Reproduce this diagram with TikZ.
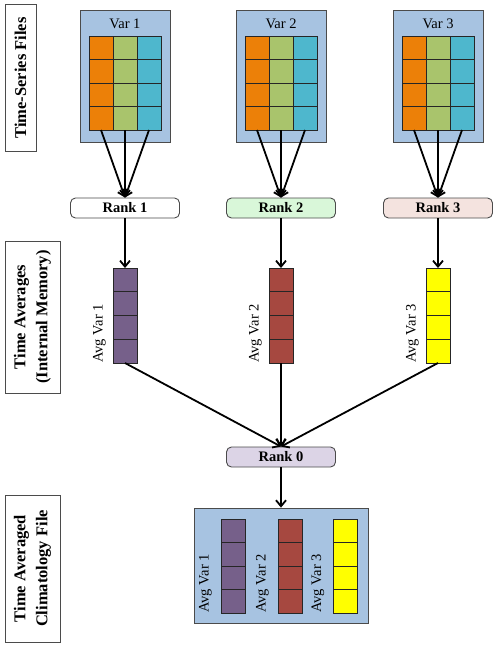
\documentclass[tikz,border=0pt]{standalone}
\usepackage{fontspec}
\setmainfont{Liberation Serif}
\usetikzlibrary{arrows.meta,positioning}
\definecolor{clfile}{RGB}{167,195,225}
\definecolor{cledge}{RGB}{75,75,75}
\definecolor{clorange}{RGB}{236,128,8}
\definecolor{clgreen}{RGB}{169,196,108}
\definecolor{clcyan}{RGB}{78,183,205}
\definecolor{clpurple}{RGB}{118,96,138}
\definecolor{clbrick}{RGB}{166,72,64}
\definecolor{clyellow}{RGB}{255,255,0}
\definecolor{clrankgreen}{RGB}{217,247,217}
\definecolor{clrankpink}{RGB}{244,227,223}
\definecolor{clranklav}{RGB}{220,212,230}
\tikzset{
  clfilebox/.style={draw=cledge, line width=0.8pt, fill=clfile, inner sep=0pt},
  clcell/.style={draw=black!85, line width=0.7pt, minimum width=24pt, minimum height=23.5pt, inner sep=0pt, outer sep=0pt},
  clrank/.style={draw=cledge, line width=0.9pt, rounded corners=5pt, minimum width=109pt, minimum height=20pt, inner sep=0pt, font=\bfseries\fontsize{14.5}{17}\selectfont},
  clside/.style={draw=cledge, line width=0.9pt, fill=white, rotate=90, align=center, inner sep=0pt, font=\bfseries\fontsize{16.5}{22}\selectfont},
  clvartext/.style={font=\fontsize{14.5}{17}\selectfont},
  clavgtext/.style={rotate=90, anchor=south west, inner sep=0pt, font=\fontsize{14.5}{17}\selectfont},
  clarr/.style={-{Straight Barb[length=6pt,width=10pt]}, line width=1.8pt}
}

\begin{document}
\begin{tikzpicture}[x=1pt, y=-1pt]
  \useasboundingbox (0,0) rectangle (500,646);

  \node[clside, minimum width=147pt, minimum height=31pt] (sidets) at (20.5,78) {Time-Series Files};
  \node[clside, minimum width=152pt, minimum height=55pt] (sideavg) at (32.5,317) {Time Averages\\(Internal Memory)};
  \node[clside, minimum width=147pt, minimum height=55pt] (sideclim) at (32.5,568.5) {Time Averaged\\Climatology File};

  \foreach \v/\x/\rk in {1/125/white,2/281/clrankgreen,3/438/clrankpink} {
    \node[clfilebox, minimum width=90pt, minimum height=132pt] (var\v) at (\x,76) {};
    \node[clvartext, anchor=base] (var\v lbl) at (\x,28) {Var \v};
    \foreach \c/\col in {1/clorange,2/clgreen,3/clcyan}
      \foreach \r in {1,...,4}
        \node[clcell, fill=\col] (v\v-\c-\r) at ({\x+(\c-2)*24},{36+(\r-0.5)*23.5}) {};
    \node[clrank, fill=\rk] (rank\v) at (\x,208) {Rank \v};
    \foreach \c in {1,2,3}
      \draw[clarr] (v\v-\c-4.south) -- (rank\v.north);
  }

  \node[clrank, fill=clranklav] (rank0) at (281,457) {Rank 0};
  \foreach \v/\x/\col in {1/125/clpurple,2/281/clbrick,3/438/clyellow} {
    \foreach \r in {1,...,4}
      \node[clcell, fill=\col, minimum height=23.75pt] (avg\v-\r) at (\x,{268+(\r-0.5)*23.75}) {};
    \node[clavgtext] (avg\v lbl) at ([xshift=-7pt]avg\v-4.south west) {Avg Var \v};
    \draw[clarr] (rank\v.south) -- (avg\v-1.north);
    \draw[clarr] (avg\v-4.south) -- (rank0.north);
  }

  \node[clfilebox, minimum width=174pt, minimum height=115pt] (clim) at (281,565.5) {};
  \draw[clarr] (rank0.south) -- (clim.north);
  \foreach \v/\x/\col in {1/233/clpurple,2/290/clbrick,3/345.5/clyellow} {
    \foreach \r in {1,...,4}
      \node[clcell, fill=\col] (cl\v-\r) at (\x,{519+(\r-0.5)*23.5}) {};
    \node[clavgtext] (cl\v lbl) at ([xshift=-9pt]cl\v-4.south west) {Avg Var \v};
  }
\end{tikzpicture}
\end{document}
